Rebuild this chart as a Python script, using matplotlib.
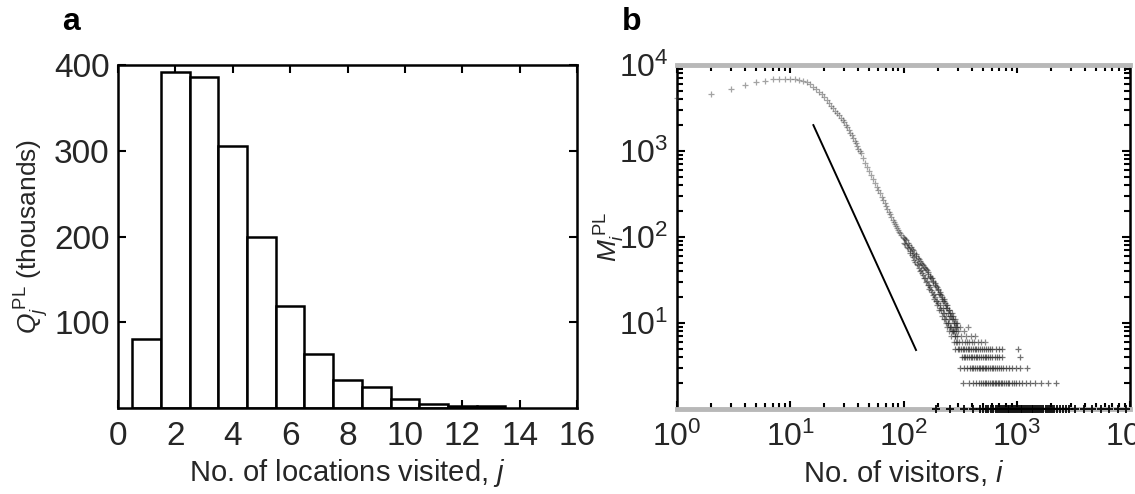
import matplotlib
matplotlib.use("Agg")
import matplotlib.pyplot as plt
from matplotlib.ticker import LogLocator, NullFormatter, FixedLocator

plt.rcParams['font.family'] = ['Liberation Sans', 'DejaVu Sans']
plt.rcParams['mathtext.fontset'] = 'custom'
plt.rcParams['mathtext.rm'] = 'Liberation Sans'
plt.rcParams['mathtext.it'] = 'Liberation Sans:italic'
plt.rcParams['mathtext.bf'] = 'Liberation Sans:bold'

# ---- panel a: number of locations visited per person (thousands) ----
locations = [1, 2, 3, 4, 5, 6, 7, 8, 9, 10, 11, 12, 13]
people_thousands = [80, 392, 386, 306, 199, 119, 63, 33, 24, 11, 5, 2, 2]

# ---- panel b: number of locations with i visitors ----
# smooth part of the distribution
curve_i = [1, 2, 3, 4, 5, 6, 7, 8, 9, 10, 11, 12, 13, 14, 15, 16, 17, 18, 19, 20,
           21, 22, 23, 24, 25, 26, 27, 28, 29, 30, 31, 32, 33, 34, 35, 36, 37, 38, 39, 40, 41,
           42, 44, 46, 48, 50, 52, 54, 56, 58, 60, 62, 64, 66, 68, 70, 72, 74, 76, 78, 80,
           82, 84, 86, 88, 90, 92, 94, 96, 98]
curve_m = [4100, 4600, 5200, 5900, 6400, 6600, 6800, 6900, 6950, 6950, 6900, 6750, 6550,
           6300, 6000, 5600, 5250, 4900, 4550, 4200, 3900, 3600, 3350, 3150, 2950, 2780,
           2600, 2450, 2300, 2150, 2000, 1880, 1760, 1640, 1530, 1420, 1320, 1230, 1140,
           1060, 1000, 936, 823, 729, 648, 579, 520, 469, 424, 385, 351, 321, 294, 270, 249,
           230, 213, 197, 183, 171, 159, 150, 142, 135, 128, 121, 115, 110, 105, 100]
# scattered tail
cloud_i = [100, 103, 106, 109, 112, 115, 118, 121, 124, 127, 130, 133, 136, 139, 142, 145,
           148, 151, 154, 157, 160, 163, 166, 169, 172, 175, 178, 181, 184, 187, 190, 193,
           196, 199, 202, 205, 208, 211, 214, 217, 220, 223, 226, 229, 232, 235, 238, 241,
           244, 247, 250, 253, 256, 259, 262, 265, 268, 271, 274, 277, 280, 283, 286, 289,
           292, 295, 298, 305, 312, 318, 325, 331, 340, 348, 356, 365, 372, 380, 392, 405,
           418, 430, 455, 480, 520]
cloud_m = [98, 84, 92, 74, 80, 66, 73, 58, 66, 51, 60, 47, 55, 40, 50, 38, 47, 33, 44, 30,
           41, 28, 37, 25, 34, 24, 33, 21, 30, 19, 28, 18, 26, 16, 25, 14, 23, 15, 21, 12,
           20, 13, 19, 11, 17, 10, 16, 9, 15, 10, 14, 8, 13, 9, 12, 7, 11, 8, 12, 6, 10, 7,
           11, 6, 9, 7, 10, 8, 6, 9, 7, 6, 8, 6, 7, 6, 9, 6, 7, 6, 6, 7, 6, 6, 6]
cloud2_i = [101, 104, 107, 110, 113, 116, 119, 122, 125, 128, 131, 134, 137, 140, 143,
            146, 149, 152, 155, 158, 161, 164, 167, 170, 173, 176, 179, 182, 185, 188, 191,
            194, 197, 200, 203, 206, 209, 212, 215, 218, 221, 224, 227, 230, 233, 236, 239,
            242, 245, 248, 251, 254, 257, 260, 263, 266, 269, 272, 275, 278, 281, 284, 287,
            290, 293, 296, 299]
cloud2_m = [86, 95, 77, 86, 69, 77, 61, 70, 54, 63, 48, 57, 44, 53, 41, 49, 36, 45, 33,
            42, 31, 39, 28, 35, 26, 33, 23, 31, 22, 29, 20, 27, 18, 24, 17, 22, 16, 22, 14,
            19, 15, 18, 13, 18, 11, 15, 12, 16, 10, 13, 11, 14, 9, 12, 9, 13, 8, 11, 8, 10,
            8, 9, 7, 10, 8, 6, 9]
# integer-valued rows at small counts
row5_i = [285, 300, 310, 322, 335, 345, 358, 370, 382, 395, 410, 425, 440, 455, 470, 490,
          510, 530, 555, 580, 610, 650, 700, 735, 1030]
row4_i = [327, 340, 352, 365, 378, 392, 405, 420, 435, 450, 465, 480, 500, 520, 540, 560,
          585, 610, 640, 670, 700, 736, 1070]
row3_i = [316, 340, 365, 385, 400, 415, 430, 445, 460, 475, 490, 505, 520, 540, 560, 580,
          600, 620, 645, 670, 700, 730, 760, 800, 850, 900, 980, 1060, 1230]
row2_i = [336, 380, 410, 440, 460, 480, 500, 520, 540, 560, 580, 600, 620, 640, 660, 680,
          700, 720, 745, 770, 800, 830, 860, 900, 940, 990, 1050, 1120, 1200, 1300, 1450,
          1650, 1900, 2240]
row1_i = [195, 260, 340, 410, 470, 500, 530, 560, 590, 620, 650, 680, 710, 740, 770, 800,
          830, 860, 890, 920, 960, 1000, 1040, 1080, 1120, 1160, 1200, 1250, 1300, 1350,
          1400, 1460, 1520, 1580, 1650, 1720, 1800, 1880, 1960, 2050, 2150, 2250, 2400,
          2550, 2700, 2900, 3300, 3900, 4600, 5500, 6500, 7800, 9300]
rows = {5: row5_i, 4: row4_i, 3: row3_i, 2: row2_i}
# reference power-law segment (end points)
guide_i = [16, 129]
guide_m = [2000, 4.85]

W, H = 1135, 494
fig = plt.figure(figsize=(W / 100, H / 100), dpi=100)

def box(l, r, t, b):
    return [l / W, 1 - b / H, (r - l) / W, (b - t) / H]

TXT = '#262626'

# ---------------- panel a ----------------
ax = fig.add_axes(box(118, 577, 65, 408))
ax.bar(locations, people_thousands, width=1.0, color='white', edgecolor='black',
       linewidth=1.8, zorder=2)
ax.set_xlim(0, 16)
ax.set_ylim(0, 400)
ax.set_xticks(range(0, 17, 2))
ax.yaxis.set_major_locator(FixedLocator([100, 200, 300, 400]))
ax.tick_params(direction='in', length=6, width=1.5, top=True, right=True,
               labelsize=24, pad=6, colors='black', labelcolor=TXT)
ax.tick_params(axis='x', pad=9)
for s in ax.spines.values():
    s.set_linewidth(1.8)
    s.set_zorder(3)
ax.set_xlabel('No. of locations visited, $\\mathit{j}$', fontsize=21, color=TXT,
              labelpad=4)
ax.set_ylabel('$Q_j^{\\,\\mathrm{PL}}$ (thousands)', fontsize=19, color=TXT,
              labelpad=2)
fig.text(62 / W, 1 - 22 / H, 'a', fontsize=23, fontweight='bold', va='center')

# ---------------- panel b ----------------
bx = fig.add_axes(box(677, 1130, 65, 409))
bx.set_xscale('log')
bx.set_yscale('log')
bx.set_xlim(1, 1e4)
bx.set_ylim(1, 1e4)

mk = dict(marker='+', clip_on=False, zorder=5)
bx.scatter(curve_i, curve_m, s=16, alpha=0.45, color='0.2', linewidths=0.9, **mk)
bx.scatter(cloud_i, cloud_m, s=22, alpha=0.55, color='0.15', linewidths=0.9, **mk)
bx.scatter(cloud2_i, cloud2_m, s=22, alpha=0.55, color='0.15', linewidths=0.9, **mk)
for level, xs in rows.items():
    bx.scatter(xs, [level] * len(xs), s=24, alpha=0.65, color='0.15', linewidths=0.9, **mk)
bx.scatter(row1_i, [1] * len(row1_i), s=40, alpha=0.9, color='black', linewidths=1.4,
           **mk)
bx.plot(guide_i, guide_m, color='black', lw=1.4, zorder=4)

bx.xaxis.set_major_locator(LogLocator(base=10, numticks=10))
bx.yaxis.set_major_locator(FixedLocator([10, 100, 1000, 10000]))
bx.xaxis.set_minor_locator(LogLocator(base=10, subs=range(2, 10), numticks=10))
bx.yaxis.set_minor_locator(LogLocator(base=10, subs=range(2, 10), numticks=10))
bx.xaxis.set_minor_formatter(NullFormatter())
bx.yaxis.set_minor_formatter(NullFormatter())
bx.tick_params(which='both', direction='in', top=True, right=True, width=1.5,
               colors='black', labelcolor=TXT)
bx.tick_params(which='major', length=6, labelsize=23, pad=6)
bx.tick_params(which='minor', length=4)
bx.tick_params(axis='x', which='major', pad=9)
for side in ('left', 'right'):
    bx.spines[side].set_linewidth(1.8)
for side in ('top', 'bottom'):
    bx.spines[side].set_linewidth(3.5)
    bx.spines[side].set_color('0.72')
bx.set_xlabel('No. of visitors, $\\mathit{i}$', fontsize=21, color=TXT, labelpad=4)
bx.set_ylabel('$M_i^{\\,\\mathrm{PL}}$', fontsize=19, color=TXT, labelpad=-6)
fig.text(622 / W, 1 - 22 / H, 'b', fontsize=23, fontweight='bold', va='center')

fig.savefig('out.png', dpi=100)
